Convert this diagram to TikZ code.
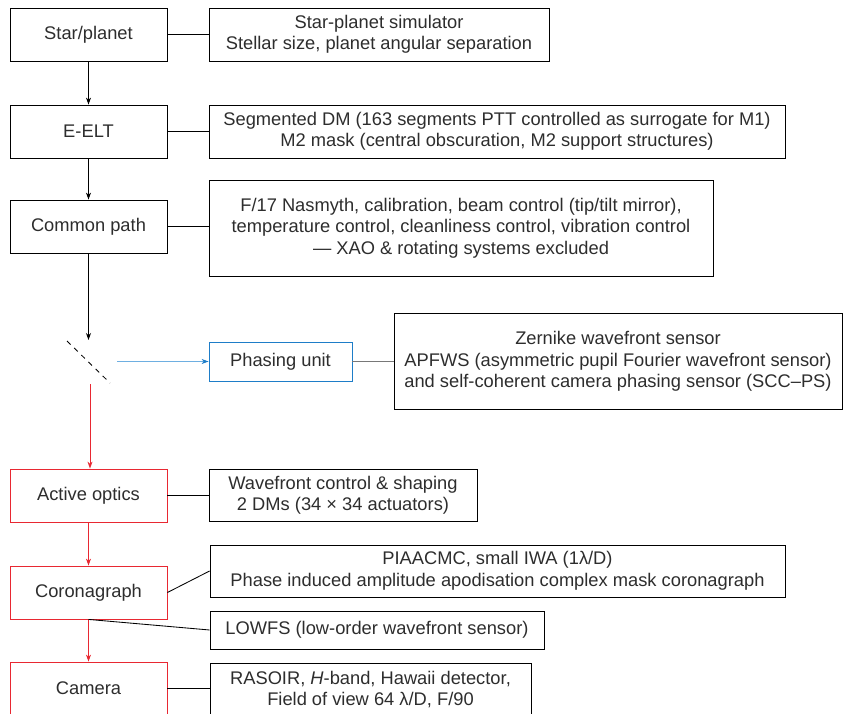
\documentclass[tikz,border=0pt]{standalone}
\usepackage{fontspec}
\setmainfont{Liberation Sans}
\usetikzlibrary{arrows.meta}
\definecolor{txt}{RGB}{45,45,45}
\definecolor{redc}{RGB}{232,40,50}
\definecolor{bluebox}{RGB}{30,125,200}
\definecolor{bluel}{RGB}{110,175,225}
\definecolor{grayl}{RGB}{120,120,120}
\begin{document}
\begin{tikzpicture}[x=1pt,y=-1pt,
  every node/.style={font=\fontsize{18.3}{21.5}\selectfont, text=txt, align=center, inner sep=0pt},
  lbox/.style={draw=black, line width=0.85pt, minimum width=157pt, minimum height=53pt},
  rlbox/.style={lbox, draw=redc},
  rbox/.style={draw=black, line width=0.85pt},
  conn/.style={line width=0.85pt},
  arr/.style={conn, -{Stealth[length=7pt,width=5pt]}},
  rarr/.style={arr, draw=redc},
]
\useasboundingbox (0,0) rectangle (849,714);
% left column
\node[lbox] (star) at (88.5,34.5) {Star/planet};
\node[lbox] (elt) at (88.5,131.5) {E-ELT};
\node[lbox] (cp) at (88.5,226.5) {Common path};
\node[rlbox] (ao) at (88.5,495.5) {Active optics};
\node[rlbox] (cor) at (88.5,592.5) {Coronagraph};
\node[rlbox] (cam) at (88.5,688.5) {Camera};
% right column
\node[rbox, minimum width=340pt, minimum height=53pt] (sim) at (379,34.5) {Star-planet simulator\\Stellar size, planet angular separation};
\node[rbox, minimum width=576pt, minimum height=53pt] (eltd) at (497,131.5) {Segmented DM (163 segments PTT controlled as surrogate for M1)\\M2 mask (central obscuration, M2 support structures)};
\node[rbox, minimum width=504pt, minimum height=96pt] (cpd) at (461,228) {F/17 Nasmyth, calibration, beam control (tip/tilt mirror),\\temperature control, cleanliness control, vibration control\\— XAO \& rotating systems excluded};
\node[draw=bluebox, line width=0.85pt, minimum width=143pt, minimum height=39pt] (ph) at (280.5,361.5) {Phasing unit};
\node[rbox, minimum width=448pt, minimum height=96pt] (zer) at (618,361.5) {Zernike wavefront sensor\\APFWS (asymmetric pupil Fourier wavefront sensor)\\and self-coherent camera phasing sensor (SCC–PS)};
\node[rbox, minimum width=268pt, minimum height=52pt] (aod) at (343,495.5) {Wavefront control \& shaping\\2 DMs (34 × 34 actuators)};
\node[rbox, minimum width=575pt, minimum height=52pt] (pia) at (497.5,571) {PIAACMC, small IWA (1λ/D)\\Phase induced amplitude apodisation complex mask coronagraph};
\node[rbox, minimum width=334pt, minimum height=38pt] (low) at (377,630) {LOWFS (low-order wavefront sensor)};
\node[rbox, minimum width=321pt, minimum height=53pt] (ras) at (370.5,689.5) {RASOIR, \textit{H}-band, Hawaii detector,\\Field of view 64 λ/D, F/90};
% mirror
\coordinate (m1) at (67,341);
\coordinate (m2) at (110,383);
\coordinate (mtop) at (88.5,340);
\coordinate (mbot) at (90,384);
\coordinate (bst) at (117,361.5);
\draw[line width=0.85pt, dash pattern=on 5pt off 5pt] (m1) -- (m2);
% vertical arrows
\draw[arr] (star.south) -- (elt.north);
\draw[arr] (elt.south) -- (cp.north);
\draw[arr] (cp.south) -- (mtop);
\draw[rarr] (mbot) -- (mbot |- ao.north);
\draw[rarr] (ao.south) -- (cor.north);
\draw[rarr] (cor.south) -- (cam.north);
\draw[conn, draw=bluel, -{Stealth[length=7pt,width=5pt,color=bluebox]}] (bst) -- (ph.west);
% horizontal connectors
\draw[conn] (star.east) -- (star.east -| sim.west);
\draw[conn] (elt.east) -- (elt.east -| eltd.west);
\draw[conn] (cp.east) -- (cp.east -| cpd.west);
\draw[conn, draw=grayl] (ph.east) -- (ph.east -| zer.west);
\draw[conn] (ao.east) -- (ao.east -| aod.west);
\draw[conn] (cor.east) -- (pia.west);
\draw[conn] (cor.south) -- (low.west);
\draw[conn] (cam.east) -- (cam.east -| ras.west);
\end{tikzpicture}
\end{document}
